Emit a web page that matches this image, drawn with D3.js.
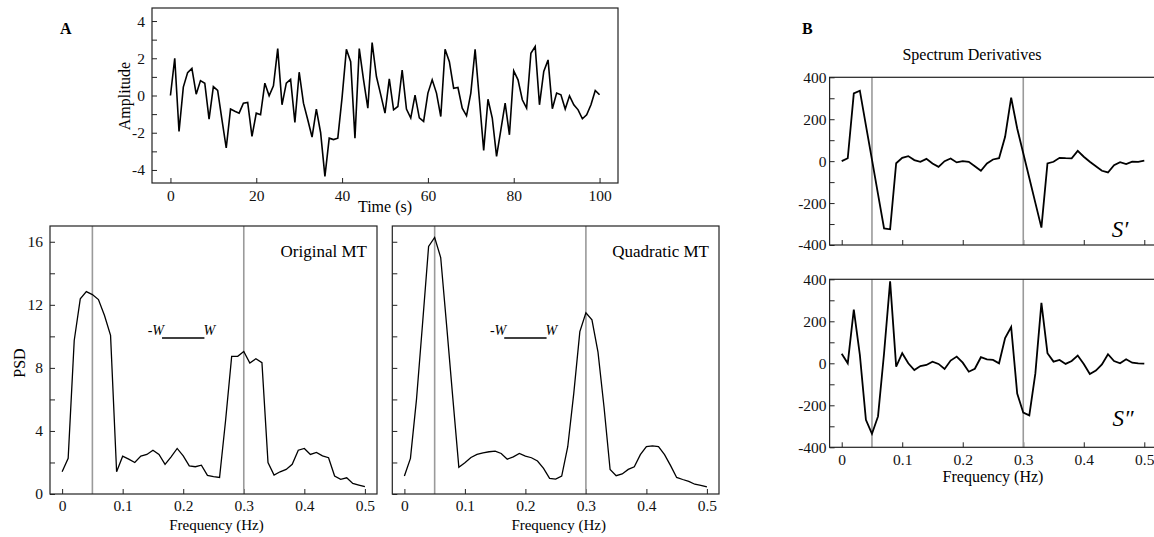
<!DOCTYPE html>
<html>
<head>
<meta charset="utf-8">
<script src="https://cdn.jsdelivr.net/npm/d3@7"></script>
<style>
  body { margin: 0; background: #fff; }
  svg { display: block; font-family: "Liberation Serif", "Times New Roman", serif; }
  .tick text { font-family: "Liberation Serif", serif; fill: #111; }
  .tick line { stroke: #222; }
</style>
</head>
<body>
<div id="fig"></div>
<script>
// time series (panel A top)
const time = d3.range(0, 101);
const amplitude = [0, 2.0, -1.93, 0.45, 1.23, 1.46, 0.07, 0.8, 0.66, -1.27,
  0.48, 0.27, -1.3, -2.82, -0.73, -0.85, -0.95, -0.41, -0.37, -2.2,
  -0.95, -1.03, 0.66, -0.02, 0.52, 2.52, -0.5, 0.66, 0.87, -1.44,
  1.25, -0.41, -1.3, -2.23, -0.73, -2.0, -4.34, -2.29, -2.37, -2.29,
  -0.1, 2.48, 1.82, -2.29, 2.52, 0.84, -0.68, 2.84, 1.02, 0.05,
  -0.95, 0.89, -0.77, -0.59, 1.36, -0.73, -1.21, 0.02, -1.2, -1.39,
  0.13, 0.84, 0.13, -1.13, 2.48, 1.82, 0.39, 0.43, -0.68, -1.09,
  0.13, 2.48, -0.23, -2.95, -0.2, -1.21, -3.27, -1.84, -0.41, -2.11,
  1.32, 0.84, -0.23, -0.68, 2.27, 2.63, -0.5, 1.29, 1.91, -0.71,
  0.13, 0.04, -0.73, -0.02, -0.5, -0.77, -1.25, -1.04, -0.5, 0.27, 0.04];

// frequency grid for the spectra
const freq = d3.range(0, 51).map(i => i / 100);
const psdOriginal = [1.41, 2.26, 9.74, 12.38, 12.84, 12.65, 12.33, 11.32, 10.06, 1.41,
  2.40, 2.21, 2.0, 2.40, 2.51, 2.78, 2.51, 1.88, 2.36, 2.89,
  2.42, 1.79, 1.73, 1.83, 1.18, 1.10, 1.05, 4.68, 8.73, 8.73,
  9.04, 8.31, 8.58, 8.33, 2.0, 1.2, 1.41, 1.56, 1.88, 2.78,
  2.89, 2.51, 2.64, 2.42, 2.3, 1.14, 0.93, 1.03, 0.67, 0.57, 0.46];
const psdQuadratic = [1.14, 2.26, 6.0, 10.8, 15.7, 16.27, 15.0, 10.6, 6.1, 1.69,
  1.98, 2.32, 2.51, 2.61, 2.68, 2.72, 2.57, 2.21, 2.36, 2.57,
  2.40, 2.30, 2.09, 1.62, 0.99, 0.95, 1.14, 3.0, 6.4, 10.3,
  11.5, 11.05, 9.0, 5.5, 1.55, 1.16, 1.27, 1.56, 1.73, 2.5,
  3.0, 3.05, 3.0, 2.5, 1.8, 1.05, 0.92, 0.8, 0.62, 0.55, 0.45];
const dS1 = [0, 14, 323, 336, 171, 7, -157, -321, -325, -10,
  16, 24, 5, -3, 11, -11, -27, 0, 13, -6,
  0, -3, -24, -46, -11, 8, 14, 116, 303, 156,
  38, -80, -199, -317, -11, -3, 16, 14, 13, 49,
  21, -3, -24, -46, -54, -19, -5, -14, -2, -3, 2];
const dS2 = [45, 0, 256, 40, -269, -336, -253, 48, 390, -16,
  48, 0, -32, -13, -8, 8, -3, -27, 13, 32,
  3, -40, -26, 29, 19, 16, 0, 120, 173, -144,
  -235, -248, -48, 288, 48, 8, 16, -3, 11, 37,
  -3, -51, -35, -5, 43, 11, 0, 19, 3, 0, -2];

const peakFreqs = [0.05, 0.3];
const wBand = [0.165, 0.235];
const wLevel = 9.9;

const timeTicks = [0, 20, 40, 60, 80, 100];
const ampTicks = [-4, -2, 0, 2, 4];
const ampMinor = [-3, -1, 1, 3];
const freqTicks = [0, 0.1, 0.2, 0.3, 0.4, 0.5];
const psdTicks = [0, 4, 8, 12, 16];
const psdMinor = [2, 6, 10, 14];
const derTicks = [-400, -200, 0, 200, 400];
const derMinor = [-300, -100, 100, 300];

const W = 1154, H = 537;
const svg = d3.select("#fig").append("svg").attr("width", W).attr("height", H);

// plain hyphen for negatives, like the original figure
const fmt = d => String(d);

function panel(o) {
  const x = d3.scaleLinear().domain(o.xd).range([o.x0, o.x1]);
  const y = d3.scaleLinear().domain(o.yd).range([o.y1, o.y0]);
  const g = svg.append("g");

  // bottom axis, ticks pointing inward
  const xa = g.append("g").attr("transform", `translate(0,${o.y1})`)
    .call(d3.axisBottom(x).tickValues(o.xt).tickSizeInner(-5).tickSizeOuter(0)
      .tickPadding(o.xpad).tickFormat(o.xlab ? fmt : ""));
  xa.select(".domain").remove();
  xa.selectAll("text").attr("font-size", o.fs);

  const ya = g.append("g").attr("transform", `translate(${o.x0},0)`)
    .call(d3.axisLeft(y).tickValues(o.yt).tickSizeInner(-5).tickSizeOuter(0)
      .tickPadding(o.ypad).tickFormat(o.ylab ? fmt : ""));
  ya.select(".domain").remove();
  ya.selectAll("text").attr("font-size", o.fs);

  const ym = g.append("g").attr("transform", `translate(${o.x0},0)`)
    .call(d3.axisLeft(y).tickValues(o.ym).tickSizeInner(-5).tickSizeOuter(0).tickFormat(""));
  ym.select(".domain").remove();

  // reference lines
  if (o.vlines) {
    g.selectAll(".vl").data(o.vlines).join("line")
      .attr("x1", d => x(d)).attr("x2", d => x(d))
      .attr("y1", o.y0).attr("y2", o.y1)
      .attr("stroke", "#9a9a9a").attr("stroke-width", 1.6);
  }

  g.append("path").datum(o.data)
    .attr("fill", "none").attr("stroke", "#000").attr("stroke-width", o.lw)
    .attr("stroke-linejoin", "miter")
    .attr("d", d3.line().x((d, i) => x(o.xs[i])).y(d => y(d)));

  // frame
  g.append("rect").attr("x", o.x0).attr("y", o.y0)
    .attr("width", o.x1 - o.x0).attr("height", o.y1 - o.y0)
    .attr("fill", "none").attr("stroke", "#222").attr("stroke-width", 1.2);

  return { g, x, y };
}

// Panel A: time series
const pa = panel({ x0: 152, x1: 618, y0: 8, y1: 183, xd: [-4.3, 104.3], yd: [-4.7, 4.7],
  xt: timeTicks, yt: ampTicks, ym: ampMinor, xlab: true, ylab: true, xpad: 7, ypad: 7,
  fs: 15.5, data: amplitude, xs: time, lw: 1.6 });
svg.append("text").attr("x", 385).attr("y", 212).attr("text-anchor", "middle")
  .attr("font-size", 16).text("Time (s)");
svg.append("text").attr("transform", "translate(130,96) rotate(-90)")
  .attr("text-anchor", "middle").attr("font-size", 16).text("Amplitude");
svg.append("text").attr("x", 60).attr("y", 34).attr("font-size", 16)
  .attr("font-weight", "bold").text("A");

// PSD panels
const psdSpecs = [
  { x0: 50, x1: 377, data: psdOriginal, label: "Original MT", ylab: true },
  { x0: 392.3, x1: 719, data: psdQuadratic, label: "Quadratic MT", ylab: false }
];
psdSpecs.forEach(s => {
  const p = panel({ x0: s.x0, x1: s.x1, y0: 226, y1: 494, xd: [-0.02, 0.52], yd: [0, 17],
    xt: freqTicks, yt: psdTicks, ym: psdMinor, xlab: true, ylab: s.ylab, xpad: 6, ypad: 7,
    fs: 15.5, data: s.data, xs: freq, lw: 1.3, vlines: peakFreqs });
  p.g.append("text").attr("x", s.x1 - 10).attr("y", 257).attr("text-anchor", "end")
    .attr("font-size", 17).text(s.label);
  p.g.append("line").attr("x1", p.x(wBand[0])).attr("x2", p.x(wBand[1]))
    .attr("y1", p.y(wLevel)).attr("y2", p.y(wLevel))
    .attr("stroke", "#000").attr("stroke-width", 1.5);
  p.g.append("text").attr("x", p.x(wBand[0]) + 2).attr("y", p.y(wLevel) - 3)
    .attr("text-anchor", "end").attr("font-size", 14).attr("font-style", "italic").text("-W");
  p.g.append("text").attr("x", p.x(wBand[1]) - 1).attr("y", p.y(wLevel) - 3)
    .attr("font-size", 14).attr("font-style", "italic").text("W");
  p.g.append("text").attr("x", (s.x0 + s.x1) / 2 + 3).attr("y", 530).attr("text-anchor", "middle")
    .attr("font-size", 15).text("Frequency (Hz)");
});
svg.append("text").attr("transform", "translate(25,363) rotate(-90)")
  .attr("text-anchor", "middle").attr("font-size", 16).text("PSD");

// Panel B: derivatives
const dTop = panel({ x0: 829.6, x1: 1156.4, y0: 77.3, y1: 245, xd: [-0.02, 0.52], yd: [-400, 400],
  xt: freqTicks, yt: derTicks, ym: derMinor, xlab: false, ylab: true, xpad: 6, ypad: 3,
  fs: 15.5, data: dS1, xs: freq, lw: 1.8, vlines: peakFreqs });
const dBot = panel({ x0: 829.6, x1: 1156.4, y0: 279.3, y1: 447.3, xd: [-0.02, 0.52], yd: [-400, 400],
  xt: freqTicks, yt: derTicks, ym: derMinor, xlab: true, ylab: true, xpad: 7, ypad: 3,
  fs: 15.5, data: dS2, xs: freq, lw: 1.8, vlines: peakFreqs });
dTop.g.append("text").attr("x", 1120).attr("y", 237).attr("text-anchor", "middle")
  .attr("font-size", 23).attr("font-style", "italic").text("S\u2032");
dBot.g.append("text").attr("x", 1123).attr("y", 426).attr("text-anchor", "middle")
  .attr("font-size", 23).attr("font-style", "italic").text("S\u2033");
svg.append("text").attr("x", 972).attr("y", 60).attr("text-anchor", "middle")
  .attr("font-size", 16).text("Spectrum Derivatives");
svg.append("text").attr("x", 802).attr("y", 34).attr("font-size", 16)
  .attr("font-weight", "bold").text("B");
svg.append("text").attr("x", 993).attr("y", 482).attr("text-anchor", "middle")
  .attr("font-size", 16).text("Frequency (Hz)");
</script>
</body>
</html>
